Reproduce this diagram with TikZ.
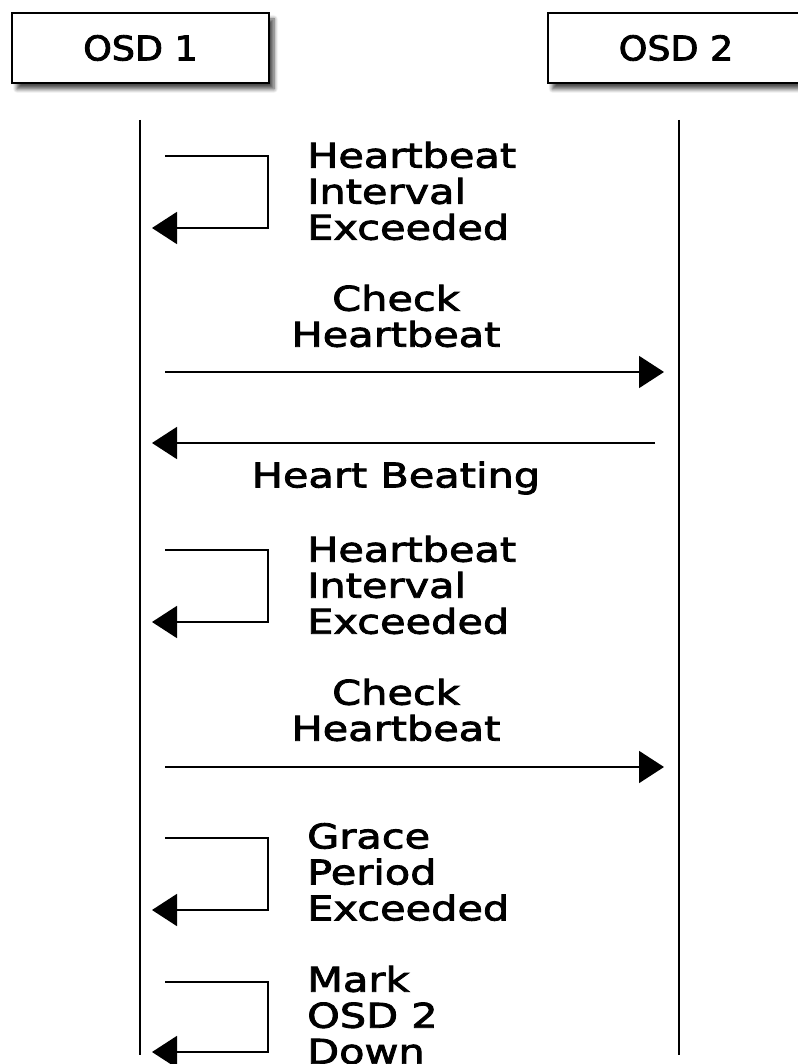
\documentclass[tikz,border=0pt]{standalone}
\usepackage{fontspec}
\setmainfont{DejaVu Sans}[FakeStretch=1.22, FakeBold=2.5]
\newfontfamily\actorfont{DejaVu Sans}[FakeStretch=1.07, FakeBold=2.5]
\usetikzlibrary{arrows.meta,shadows.blur}
\begin{document}
\begin{tikzpicture}[x=1pt,y=-1pt,
  every node/.style={font=\fontsize{34}{36}\selectfont},
  actor/.style={draw, line width=2pt, fill=white, minimum width=257pt, minimum height=70pt, inner sep=0pt,
    font=\fontsize{34}{36}\selectfont\actorfont,
    blur shadow={shadow xshift=5pt, shadow yshift=-6pt, shadow blur steps=6, shadow blur radius=4pt, shadow opacity=70}},
  life/.style={line width=1.8pt},
  msg/.style={line width=1.8pt, -{Triangle[length=25pt,width=32pt]}},
  lbl/.style={align=left, anchor=west, inner sep=0pt},
  clbl/.style={align=center, inner sep=0pt}]
\useasboundingbox (0,0) rectangle (797,1064);
\node[actor] (osd1) at (140.5,48) {OSD 1};
\node[actor] (osd2) at (676,48) {OSD 2};
\coordinate (l1t) at (140,120); \coordinate (l1b) at (140,1055);
\coordinate (l2t) at (679,120); \coordinate (l2b) at (679,1055);
\draw[life] (l1t) -- (l1b);
\draw[life] (l2t) -- (l2b);
% loop 1
\coordinate (a1) at (165,156); \coordinate (a2) at (152,228);
\draw[msg] (a1) -| (268,228) -- (a2);
\node[lbl] (t1) at (307,191) {Heartbeat\\Interval\\Exceeded};
% check 1
\coordinate (b1) at (165,372); \coordinate (b2) at (664,372);
\draw[msg] (b1) -- (b2);
\node[clbl] (t2) at (396,316) {Check\\Heartbeat};
% heart beating
\coordinate (c1) at (655,443); \coordinate (c2) at (152,443);
\draw[msg] (c1) -- (c2);
\node[clbl] (t3) at (396,478) {Heart Beating};
% loop 2
\coordinate (d1) at (165,550); \coordinate (d2) at (152,622);
\draw[msg] (d1) -| (268,622) -- (d2);
\node[lbl] (t4) at (307,585) {Heartbeat\\Interval\\Exceeded};
% check 2
\coordinate (e1) at (165,767); \coordinate (e2) at (664,767);
\draw[msg] (e1) -- (e2);
\node[clbl] (t5) at (396,710) {Check\\Heartbeat};
% grace
\coordinate (f1) at (165,838); \coordinate (f2) at (152,910);
\draw[msg] (f1) -| (268,910) -- (f2);
\node[lbl] (t6) at (307,872) {Grace\\Period\\Exceeded};
% mark
\coordinate (g1) at (165,982); \coordinate (g2) at (152,1052);
\draw[msg] (g1) -| (268,1052) -- (g2);
\node[lbl] (t7) at (307,1015) {Mark\\OSD 2\\Down};
\end{tikzpicture}
\end{document}
